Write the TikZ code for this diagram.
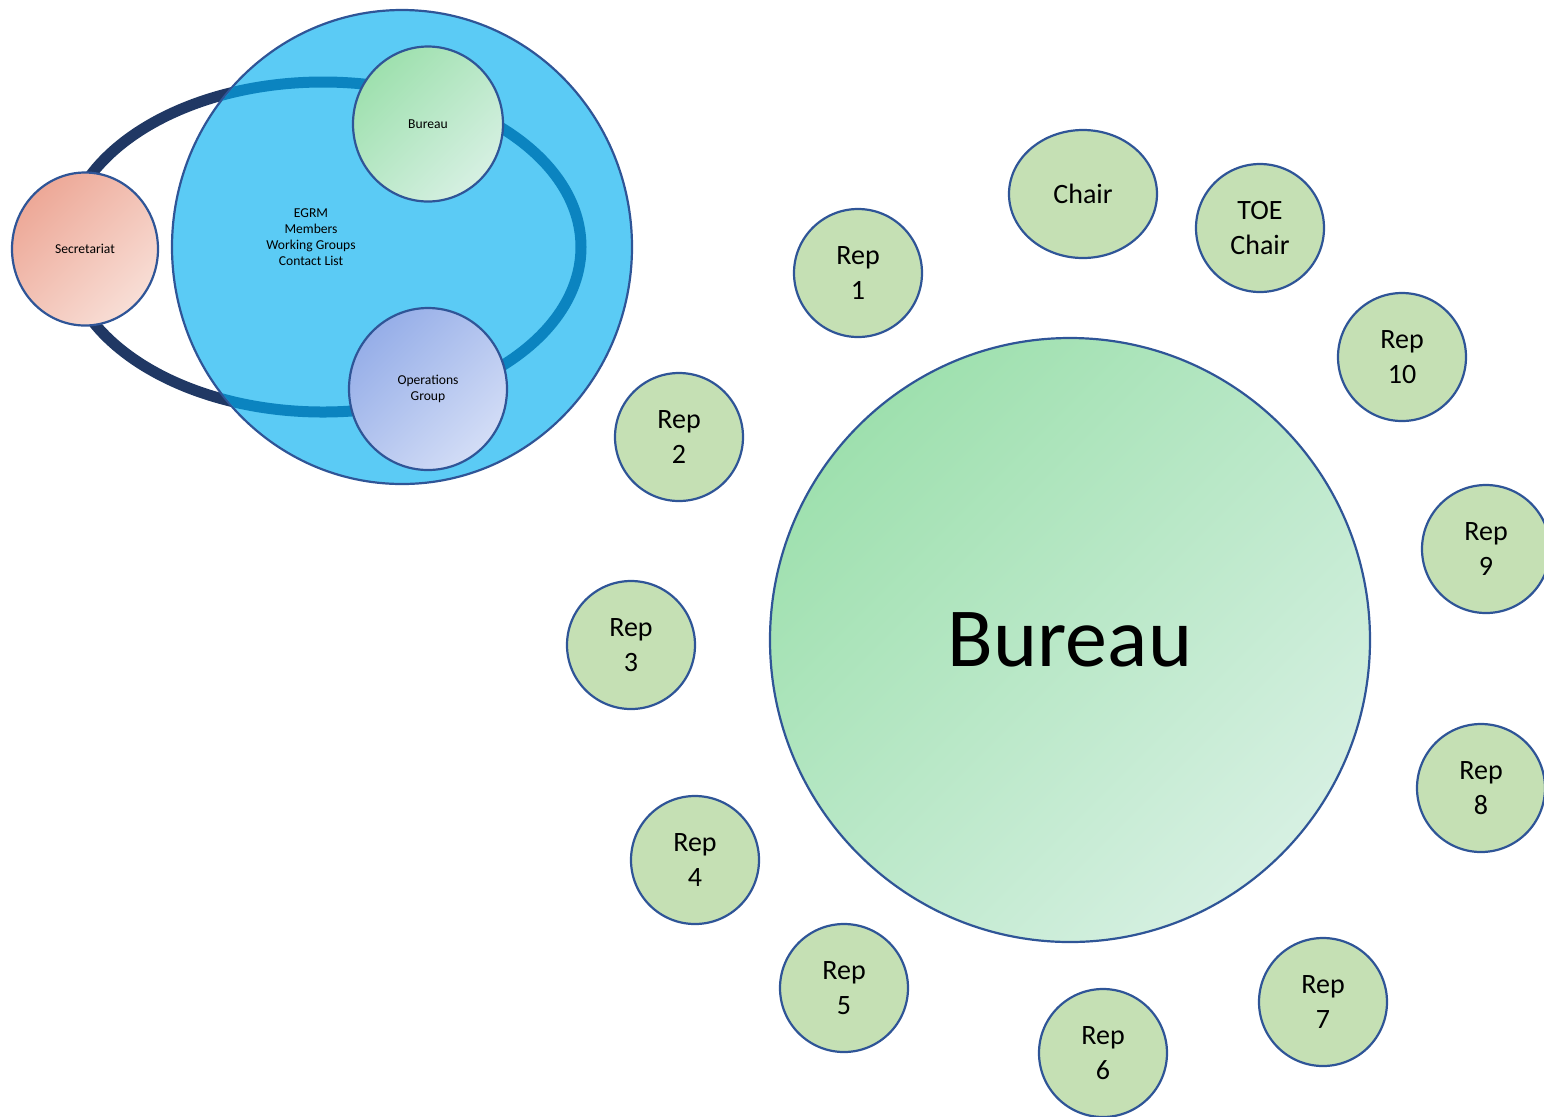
\documentclass[tikz,border=0pt]{standalone}
\usepackage{fontspec}
\setmainfont{Carlito}
\usetikzlibrary{shapes.geometric}
\definecolor{repfill}{HTML}{C5E0B4}
\definecolor{edgeblue}{HTML}{2F5597}
\definecolor{egrmfill}{HTML}{5BCBF5}
\definecolor{ringdark}{HTML}{203864}
\definecolor{ringin}{HTML}{0B84C0}
\definecolor{grnA}{HTML}{9EE0AE}
\definecolor{grnB}{HTML}{D6F0E2}
\definecolor{redA}{HTML}{EDA897}
\definecolor{redB}{HTML}{F8DED6}
\definecolor{bluA}{HTML}{96AEE8}
\definecolor{bluB}{HTML}{D3DDF6}
\tikzset{
  blob/.style={ellipse, draw=edgeblue, line width=1.1pt, inner sep=0pt, align=center},
  rep/.style={blob, fill=repfill, minimum width=64pt, minimum height=64pt, font=\fontsize{14}{17.5}\selectfont},
  tiny/.style={align=center, font=\fontsize{6.8}{8}\selectfont},
  smallblob/.style={blob, font=\fontsize{6.8}{8}\selectfont},
  ringline/.style={line width=5.5pt}
}
\begin{document}
\begin{tikzpicture}[x=0.5pt, y=-0.5pt]
\useasboundingbox (0,0) rectangle (1544,1116);
% ring
\draw[ringline, ringdark] (323,247) ellipse [x radius=258, y radius=165];
% EGRM
\node[blob, fill=egrmfill, minimum width=230pt, minimum height=237pt] (egrm) at (402,247) {};
\begin{scope}
  \clip (402,247) ellipse [x radius=229, y radius=236];
  \draw[ringline, ringin] (323,247) ellipse [x radius=258, y radius=165];
\end{scope}
\node[tiny] (egrmtext) at (311,237) {EGRM\\Members\\Working Groups\\Contact List};
\node[smallblob, top color=redA, bottom color=redB, shading angle=45, minimum width=73pt, minimum height=76.5pt] (sec) at (85,249) {Secretariat};
\node[smallblob, top color=grnA, bottom color=grnB, shading angle=45, minimum width=75pt, minimum height=77.5pt] (bsmall) at (428,124) {Bureau};
\node[smallblob, top color=bluA, bottom color=bluB, shading angle=45, minimum width=79pt, minimum height=81pt] (ops) at (428,389) {Operations\\Group};
% big bureau
\node[blob, top color=grnA, bottom color=grnB, shading angle=45, minimum width=300pt, minimum height=302pt, font=\fontsize{42}{50}\selectfont] (bureau) at (1070,640) {Bureau};
% reps
\node[rep, minimum width=74pt] (chair) at (1083,194) {Chair};
\node[rep] (toe) at (1260,228) {TOE\\Chair};
\node[rep] (r1) at (858,273) {Rep\\1};
\node[rep] (r2) at (679,437) {Rep\\2};
\node[rep] (r3) at (631,645) {Rep\\3};
\node[rep] (r4) at (695,860) {Rep\\4};
\node[rep] (r5) at (844,988) {Rep\\5};
\node[rep] (r6) at (1103,1053) {Rep\\6};
\node[rep] (r7) at (1323,1002) {Rep\\7};
\node[rep] (r8) at (1481,788) {Rep\\8};
\node[rep] (r9) at (1486,549) {Rep\\9};
\node[rep] (r10) at (1402,357) {Rep\\10};
\end{tikzpicture}
\end{document}
